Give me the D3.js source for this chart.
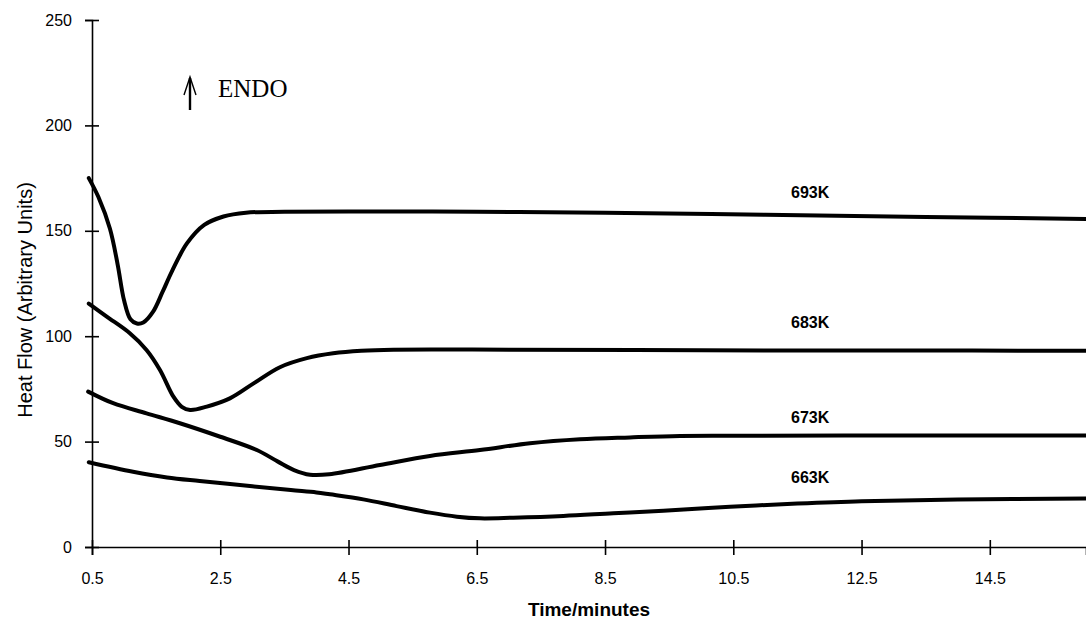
<!DOCTYPE html>
<html>
<head>
<meta charset="utf-8">
<script src="https://cdn.jsdelivr.net/npm/d3@7/dist/d3.min.js"></script>
<style>
  html, body { margin: 0; padding: 0; background: #fff; }
  svg { display: block; }
</style>
</head>
<body>
<svg id="chart" width="1086" height="623"></svg>
<script>
// Isothermal DSC traces: heat flow vs time at four temperatures
const seriesNames = ["693K", "683K", "673K", "663K"];

const time693 = [0.45, 0.6, 0.78, 0.9, 1.0, 1.1, 1.2, 1.3, 1.45, 1.6, 1.75, 1.98, 2.25, 2.55, 2.9, 3.5, 4.5, 6.5, 8.5, 11.0, 13.5, 16.0];
const heat693 = [175, 166, 151, 134, 117, 108, 106, 106.5, 111.5, 121, 131, 144, 152.8, 156.8, 158.6, 159, 159.2, 159, 158.6, 157.6, 156.6, 155.6];

const time683 = [0.45, 0.73, 1.09, 1.35, 1.56, 1.77, 1.9, 2.03, 2.29, 2.65, 3.02, 3.43, 3.85, 4.26, 4.7, 5.2, 7.0, 10.0, 13.0, 16.0];
const heat683 = [115.5, 109.3, 101.4, 93.5, 84, 71.3, 66.5, 65, 66.6, 70.5, 77.6, 85.3, 89.6, 91.9, 93.1, 93.6, 93.6, 93.3, 93.2, 93.1];

const time673 = [0.44, 0.83, 1.35, 1.87, 2.5, 3.07, 3.4, 3.65, 3.9, 4.2, 4.99, 5.77, 6.55, 7.33, 8.11, 8.89, 9.67, 10.45, 13.0, 16.0];
const heat673 = [73.7, 68.2, 63.4, 58.7, 52.3, 46, 40.5, 36.5, 34.3, 34.5, 38.9, 43.2, 46, 49.2, 51.1, 52, 52.7, 52.8, 52.9, 52.9];

const time663 = [0.45, 1.14, 1.67, 2.18, 3.0, 3.6, 4.0, 4.21, 4.73, 5.25, 5.77, 6.19, 6.55, 7.07, 7.85, 8.63, 9.41, 10.45, 11.5, 12.5, 14.0, 16.0];
const heat663 = [40.2, 35.7, 33, 31.3, 28.8, 27, 25.9, 25, 22.6, 19.4, 16.3, 14.4, 13.6, 13.9, 14.7, 16, 17.2, 19.1, 20.6, 21.7, 22.5, 23];

// Curve label anchor points (time, heat flow)
const labelTimes = [11.4, 11.4, 11.4, 11.4];
const labelHeats = [165.6, 103.9, 59.0, 30.2];

const xTicks = [0.5, 2.5, 4.5, 6.5, 8.5, 10.5, 12.5, 14.5];
const yTicks = [0, 50, 100, 150, 200, 250];

const xTitle = "Time/minutes";
const yTitle = "Heat Flow (Arbitrary Units)";
const endoLabel = "ENDO";

const svg = d3.select("#chart");

const x = d3.scaleLinear().domain([0.5, 16.0]).range([92, 1086]);
const y = d3.scaleLinear().domain([0, 250]).range([547, 20]);

const series = [
  { name: seriesNames[0], t: time693, v: heat693 },
  { name: seriesNames[1], t: time683, v: heat683 },
  { name: seriesNames[2], t: time673, v: heat673 },
  { name: seriesNames[3], t: time663, v: heat663 }
];

const sansFont = "Liberation Sans, Arial, sans-serif";

// Axes
const yAxis = d3.axisLeft(y).tickValues(yTicks).tickSizeOuter(0).tickSize(7).tickPadding(13);
const gy = svg.append("g").attr("transform", `translate(${x(0.5)},0)`).call(yAxis);
gy.selectAll(".tick line").attr("x1", -7).attr("x2", 7).attr("stroke-width", 1.6);
gy.select(".domain").attr("stroke-width", 1.6);
gy.selectAll(".tick text")
  .attr("font-family", sansFont)
  .attr("font-size", 16).attr("fill", "#000");

const xAxis = d3.axisBottom(x).tickValues(xTicks).tickFormat(d3.format(".1f")).tickSizeOuter(0).tickSize(8).tickPadding(18);
const gx = svg.append("g").attr("transform", `translate(0,${y(0)})`).call(xAxis);
gx.selectAll(".tick line").attr("y1", -7).attr("y2", 8).attr("stroke-width", 1.6);
gx.select(".domain").attr("stroke-width", 1.6);
gx.selectAll(".tick text")
  .attr("font-family", sansFont)
  .attr("font-size", 16).attr("fill", "#000");

// Axis titles
svg.append("text")
  .attr("x", (x.range()[0] + x.range()[1]) / 2)
  .attr("y", 616)
  .attr("text-anchor", "middle")
  .attr("font-family", sansFont)
  .attr("font-weight", "bold")
  .attr("font-size", 19)
  .text(xTitle);

svg.append("text")
  .attr("transform", `translate(32,300) rotate(-90)`)
  .attr("text-anchor", "middle")
  .attr("font-family", sansFont)
  .attr("font-size", 20)
  .text(yTitle);

// Traces
const line = d3.line()
  .x(d => x(d[0]))
  .y(d => y(d[1]))
  .curve(d3.curveCatmullRom.alpha(0.5));

svg.append("g").selectAll("path")
  .data(series)
  .join("path")
  .attr("d", s => line(s.t.map((t, i) => [t, s.v[i]])))
  .attr("fill", "none")
  .attr("stroke", "#000")
  .attr("stroke-width", 4)
  .attr("stroke-linejoin", "round")
  .attr("stroke-linecap", "round");

// Trace labels
svg.append("g").selectAll("text")
  .data(series)
  .join("text")
  .attr("x", (s, i) => x(labelTimes[i]))
  .attr("y", (s, i) => y(labelHeats[i]))
  .attr("font-family", sansFont)
  .attr("font-weight", "bold")
  .attr("font-size", 16)
  .text(s => s.name);

// Endotherm direction marker
const arrowX = 190;
svg.append("line")
  .attr("x1", arrowX).attr("x2", arrowX)
  .attr("y1", 110).attr("y2", 78)
  .attr("stroke", "#000").attr("stroke-width", 2.4);
svg.append("path")
  .attr("d", `M${arrowX - 6},${95} L${arrowX},${77} L${arrowX + 6},${95}`)
  .attr("fill", "none").attr("stroke", "#000").attr("stroke-width", 1.4);
svg.append("text")
  .attr("x", 218).attr("y", 97)
  .attr("font-family", "Liberation Serif, Times New Roman, serif")
  .attr("font-size", 25)
  .text(endoLabel);
</script>
</body>
</html>
